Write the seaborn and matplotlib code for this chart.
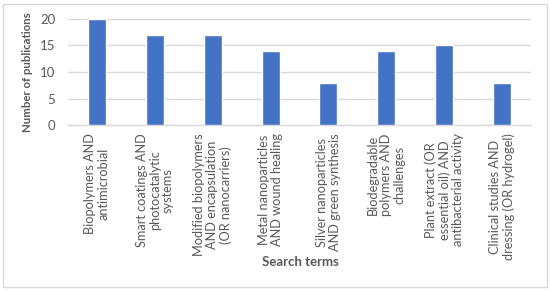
#!/usr/bin/env python3
# Publications per search term - bar chart

import pandas as pd
import matplotlib.pyplot as plt
import seaborn as sns
from matplotlib.patches import Rectangle

sns.set_theme(style='white')
plt.rcParams['font.family'] = ['Lato', 'DejaVu Sans']

# Data
search_terms = [
    'Biopolymers AND\nantimicrobial',
    'Smart coatings AND\nphotocatalytic\nsystems',
    'Modified biopolymers\nAND encapsulation\n(OR nanocarriers)',
    'Metal nanoparticles\nAND wound healing',
    'Silver nanoparticles\nAND green synthesis',
    'Biodegradable\npolymers AND\nchallenges',
    'Plant extract (OR\nessential oil) AND\nantibacterial activity',
    'Clinical studies AND\ndressing (OR hydrogel)',
]
publications = [20, 17, 17, 14, 8, 14, 15, 8]
y_ticks = [0, 5, 10, 15, 20]

df = pd.DataFrame({'term': search_terms, 'count': publications})

text_grey = '#595959'
grid_grey = '#d9d9d9'

fig = plt.figure(figsize=(5.5, 2.91), dpi=100)
ax = fig.add_axes([68 / 550, 1 - 125 / 291, (531 - 68) / 550, (125 - 19) / 291])

sns.barplot(data=df, x='term', y='count', color='#4472c4', saturation=1,
            width=0.31, ax=ax, zorder=3)

ax.set_ylim(0, 20)
ax.set_yticks(y_ticks)
ax.set_xlim(-0.5, len(search_terms) - 0.5)
ax.yaxis.grid(True, color=grid_grey, linewidth=1, zorder=0)
ax.xaxis.grid(False)
for side in ['top', 'right', 'left']:
    ax.spines[side].set_visible(False)
ax.spines['bottom'].set_color(grid_grey)
ax.spines['bottom'].set_linewidth(1)

ax.tick_params(axis='both', length=0, colors=text_grey)
ax.tick_params(axis='y', labelsize=9.5, pad=9)
ax.tick_params(axis='x', labelsize=9.2, pad=6)
for lbl in ax.get_xticklabels():
    lbl.set_rotation(90)
    lbl.set_multialignment('center')
    lbl.set_linespacing(1.12)
    lbl.set_color(text_grey)

ax.set_ylabel('Number of publications', fontsize=8.2, fontweight='bold',
              color=text_grey, labelpad=5)
ax.set_xlabel('')
fig.text(300 / 550, 1 - 262 / 291, 'Search terms', fontsize=9.5,
         fontweight='bold', color=text_grey, ha='center', va='center')

# Light frame round the whole chart
fig.patches.append(Rectangle((3 / 550, 4 / 291), 544 / 550, 283 / 291,
                             transform=fig.transFigure, fill=False,
                             edgecolor=grid_grey, linewidth=1))

plt.savefig('out.png', dpi=100)
